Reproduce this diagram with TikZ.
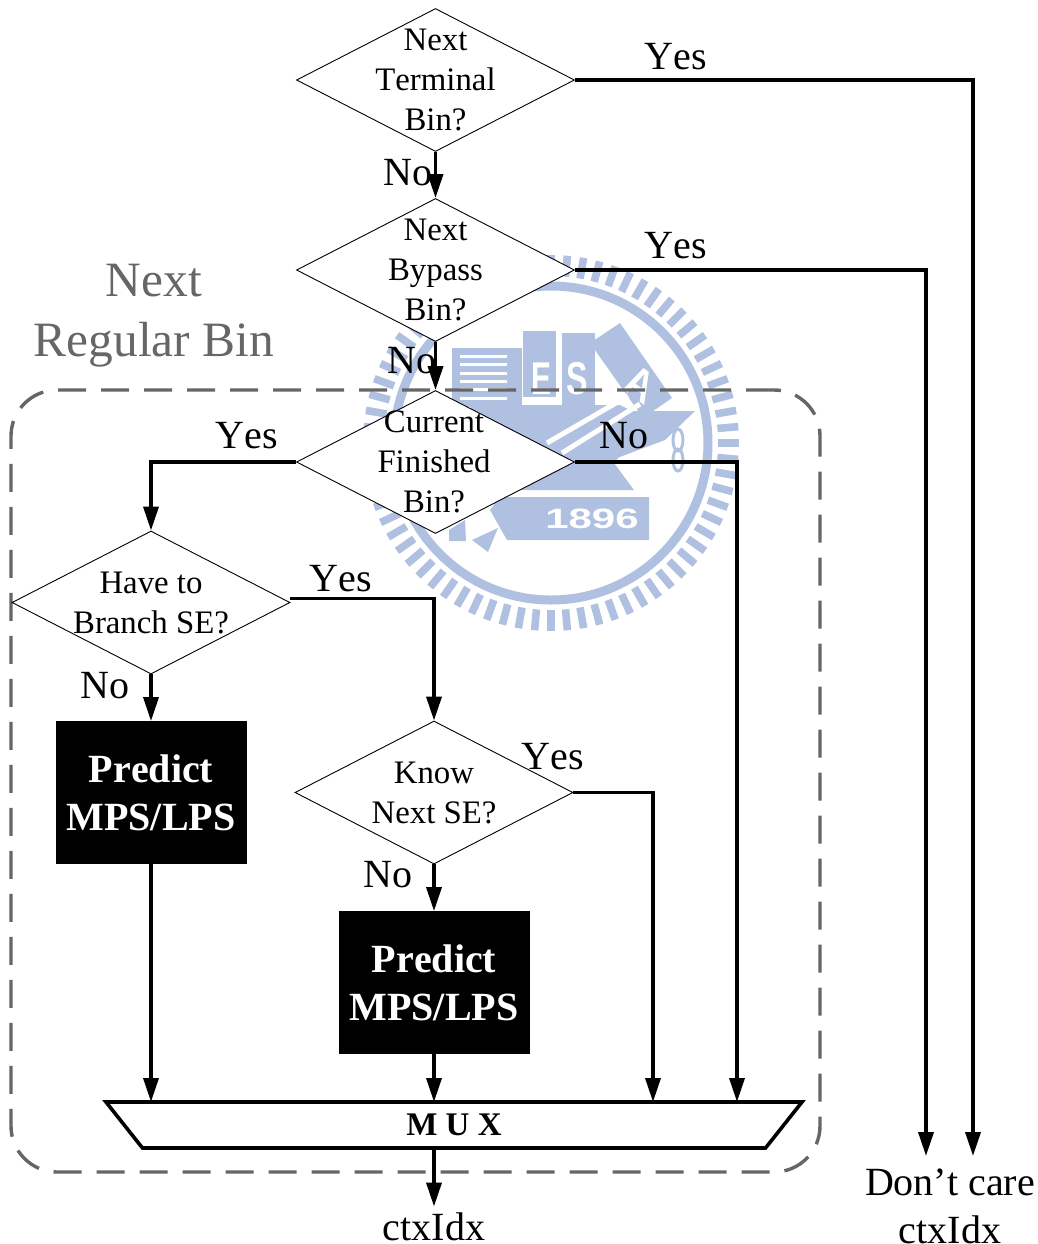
\documentclass[tikz,border=0pt]{standalone}
\usepackage{fontspec}
\setmainfont[Kerning=Off]{Liberation Serif}
\setsansfont{Liberation Sans}
\usepackage{xcolor}
\definecolor{seal}{RGB}{175,192,224}
\definecolor{slate}{RGB}{102,102,102}
\usetikzlibrary{arrows.meta,positioning,calc,shapes.geometric}
\tikzset{
  decision/.style={diamond, draw=black, fill=white, line width=0.45pt, inner sep=0pt,
    minimum width=139pt, minimum height=71.5pt},
  dtext/.style={font=\fontsize{16.4}{20}\selectfont, align=center, inner sep=0pt},
  answer/.style={font=\fontsize{20}{24}\selectfont, inner sep=0pt, yshift=-0.5pt},
  predict/.style={draw=black, fill=black, text=white, inner sep=0pt, align=center,
    minimum width=95pt, minimum height=71pt,
    font=\fontsize{20}{24}\bfseries\selectfont},
  muxbox/.style={trapezium, shape border rotate=180, trapezium left angle=31,
    trapezium right angle=31, draw=black, fill=white, line width=1.8pt, inner sep=0pt,
    outer sep=0pt, minimum width=348pt, minimum height=23pt,
    trapezium stretches body=true, font=\fontsize{16.5}{20}\bfseries\selectfont},
  flow/.style={draw=black, line width=1.75pt, -{Triangle[width=7.5pt,length=12pt]}},
  regbox/.style={draw=slate, line width=1.7pt, rounded corners=23pt,
    dash pattern=on 14pt off 7.5pt, inner sep=0pt,
    minimum width=404.5pt, minimum height=391pt},
  seallabel/.style={text=white, inner sep=0pt},
}
\begin{document}
\begin{tikzpicture}[x=0.5pt,y=-0.5pt]
\useasboundingbox (0,0) rectangle (1038,1244);

% watermark
\begin{scope}[shift={(551,443)}]
  \foreach \a in {0,5,...,355}
    \draw[seal, line width=3.8pt] (\a:167) -- (\a:188);
  \draw[seal, line width=4.5pt] (0,0) circle[radius=157];
\end{scope}
\fill[seal] (452,348) rectangle (522,407);
\foreach \y in {355,363,372,380,388,397}
  \fill[white] (460,\y) rectangle (507,\y+2.5);
\fill[seal] (523,331) rectangle (556,397);
\fill[seal] (562,333) rectangle (595,405);
\fill[seal] (590,343) -- (620,323) -- (672,398) -- (643,418) -- cycle;
\fill[seal] (470,405) -- (620,405) -- (650,420) -- (614,463) -- (634,490) -- (490,490) -- cycle;
\fill[seal] (627,411) -- (695,411) -- (665,440) -- (617,458) -- cycle;
\draw[white, line width=2.5pt] (547,443) -- (628,396);
\draw[white, line width=2.5pt] (562,453) -- (640,404);
\draw[seal, line width=1.5pt] (678,440) ellipse[x radius=5, y radius=11];
\draw[seal, line width=1.5pt] (678,460) ellipse[x radius=5, y radius=11];
\fill[seal] (490,510) -- (500,497) -- (649,497) -- (649,540) -- (507,540) -- cycle;
\fill[seal] (449,530) -- (465,520) -- (466,541) -- (449,541) -- cycle;
\fill[seal] (472,540) -- (498,528) -- (488,552) -- cycle;
\node[seallabel, font=\sffamily\bfseries\fontsize{23}{26}\selectfont, xscale=0.65] (sealE) at (541,379) {E};
\node[seallabel, font=\sffamily\bfseries\fontsize{23}{26}\selectfont, xscale=0.7] (sealS) at (577,379) {S};
\node[seallabel, font=\sffamily\bfseries\fontsize{23}{26}\selectfont, xscale=0.8, rotate=-30] (sealA) at (640,384) {A};
\node[seallabel, font=\sffamily\bfseries\fontsize{14}{16}\selectfont, xscale=1.5] (sealyear) at (592,519) {1896};

\node[regbox] (regular) at (415.5,781) {};

\node[decision] (terminal) at (435.5,80) {};
\node[decision] (bypass) at (435.5,270) {};
\node[decision] (finished) at (435.5,462) {};
\node[decision] (branch) at (151,602.5) {};
\node[decision] (know) at (434,792.5) {};
\node[dtext] (terminaltxt) at (terminal) {Next\\Terminal\\Bin?};
\node[dtext] (bypasstxt) at (bypass) {Next\\Bypass\\Bin?};
\node[dtext] (finishedtxt) at (434,462) {Current\\Finished\\Bin?};
\node[dtext] (branchtxt) at (branch) {Have to\\Branch SE?};
\node[dtext] (knowtxt) at (know) {Know\\Next SE?};

\node[predict] (predleft) at (151,792.5) {Predict\\MPS/LPS};
\node[predict] (predmid) at (434,982.5) {Predict\\MPS/LPS};
\node[muxbox] (mux) at (454,1125) {M U X};

\node[answer] (ctxout) at (434,1226) {ctxIdx};
\node[answer, align=center] (dontcare) at (950,1205) {Don’t care\\ctxIdx};
\coordinate (farbypass) at (926,1156);
\coordinate (farterminal) at (973,1156);

\draw[flow] (terminal.south) -- (bypass.north);
\draw[flow] (bypass.south) -- (finished.north);
\draw[flow] (terminal.east) -| (farterminal);
\draw[flow] (bypass.east) -| (farbypass);
\draw[flow] (finished.west) -| (branch.north);
\draw[flow] (finished.east) -| (737,1102);
\draw[flow] ([yshift=2pt]branch.east) -| (know.north);
\draw[flow] (branch.south) -- (predleft.north);
\draw[flow] (know.south) -- (predmid.north);
\draw[flow] (know.east) -| (653,1102);
\draw[flow] (predleft.south) -- (predleft.south |- mux.north);
\draw[flow] (predmid.south) -- (predmid.south |- mux.north);
\draw[flow] (mux.south -| ctxout.north) -- ([yshift=3pt]ctxout.north);

\node[answer] (yesterminal) at (676,56) {Yes};
\node[answer] (yesbypass) at (676,245) {Yes};
\node[answer] (noterminal) at (408,172) {No};
\node[answer] (nobypass) at (412,360) {No};
\node[answer] (yesfinished) at (247,435) {Yes};
\node[answer] (nofinished) at (624,435) {No};
\node[answer] (yesbranch) at (341,578) {Yes};
\node[answer] (nobranch) at (105,685) {No};
\node[answer] (yesknow) at (553,756) {Yes};
\node[answer] (noknow) at (388,874) {No};
\node[text=slate, align=center, inner sep=0pt, font=\fontsize{24.7}{30}\selectfont]
  (regulartitle) at (154,316) {Next\\Regular Bin};
\end{tikzpicture}
\end{document}
